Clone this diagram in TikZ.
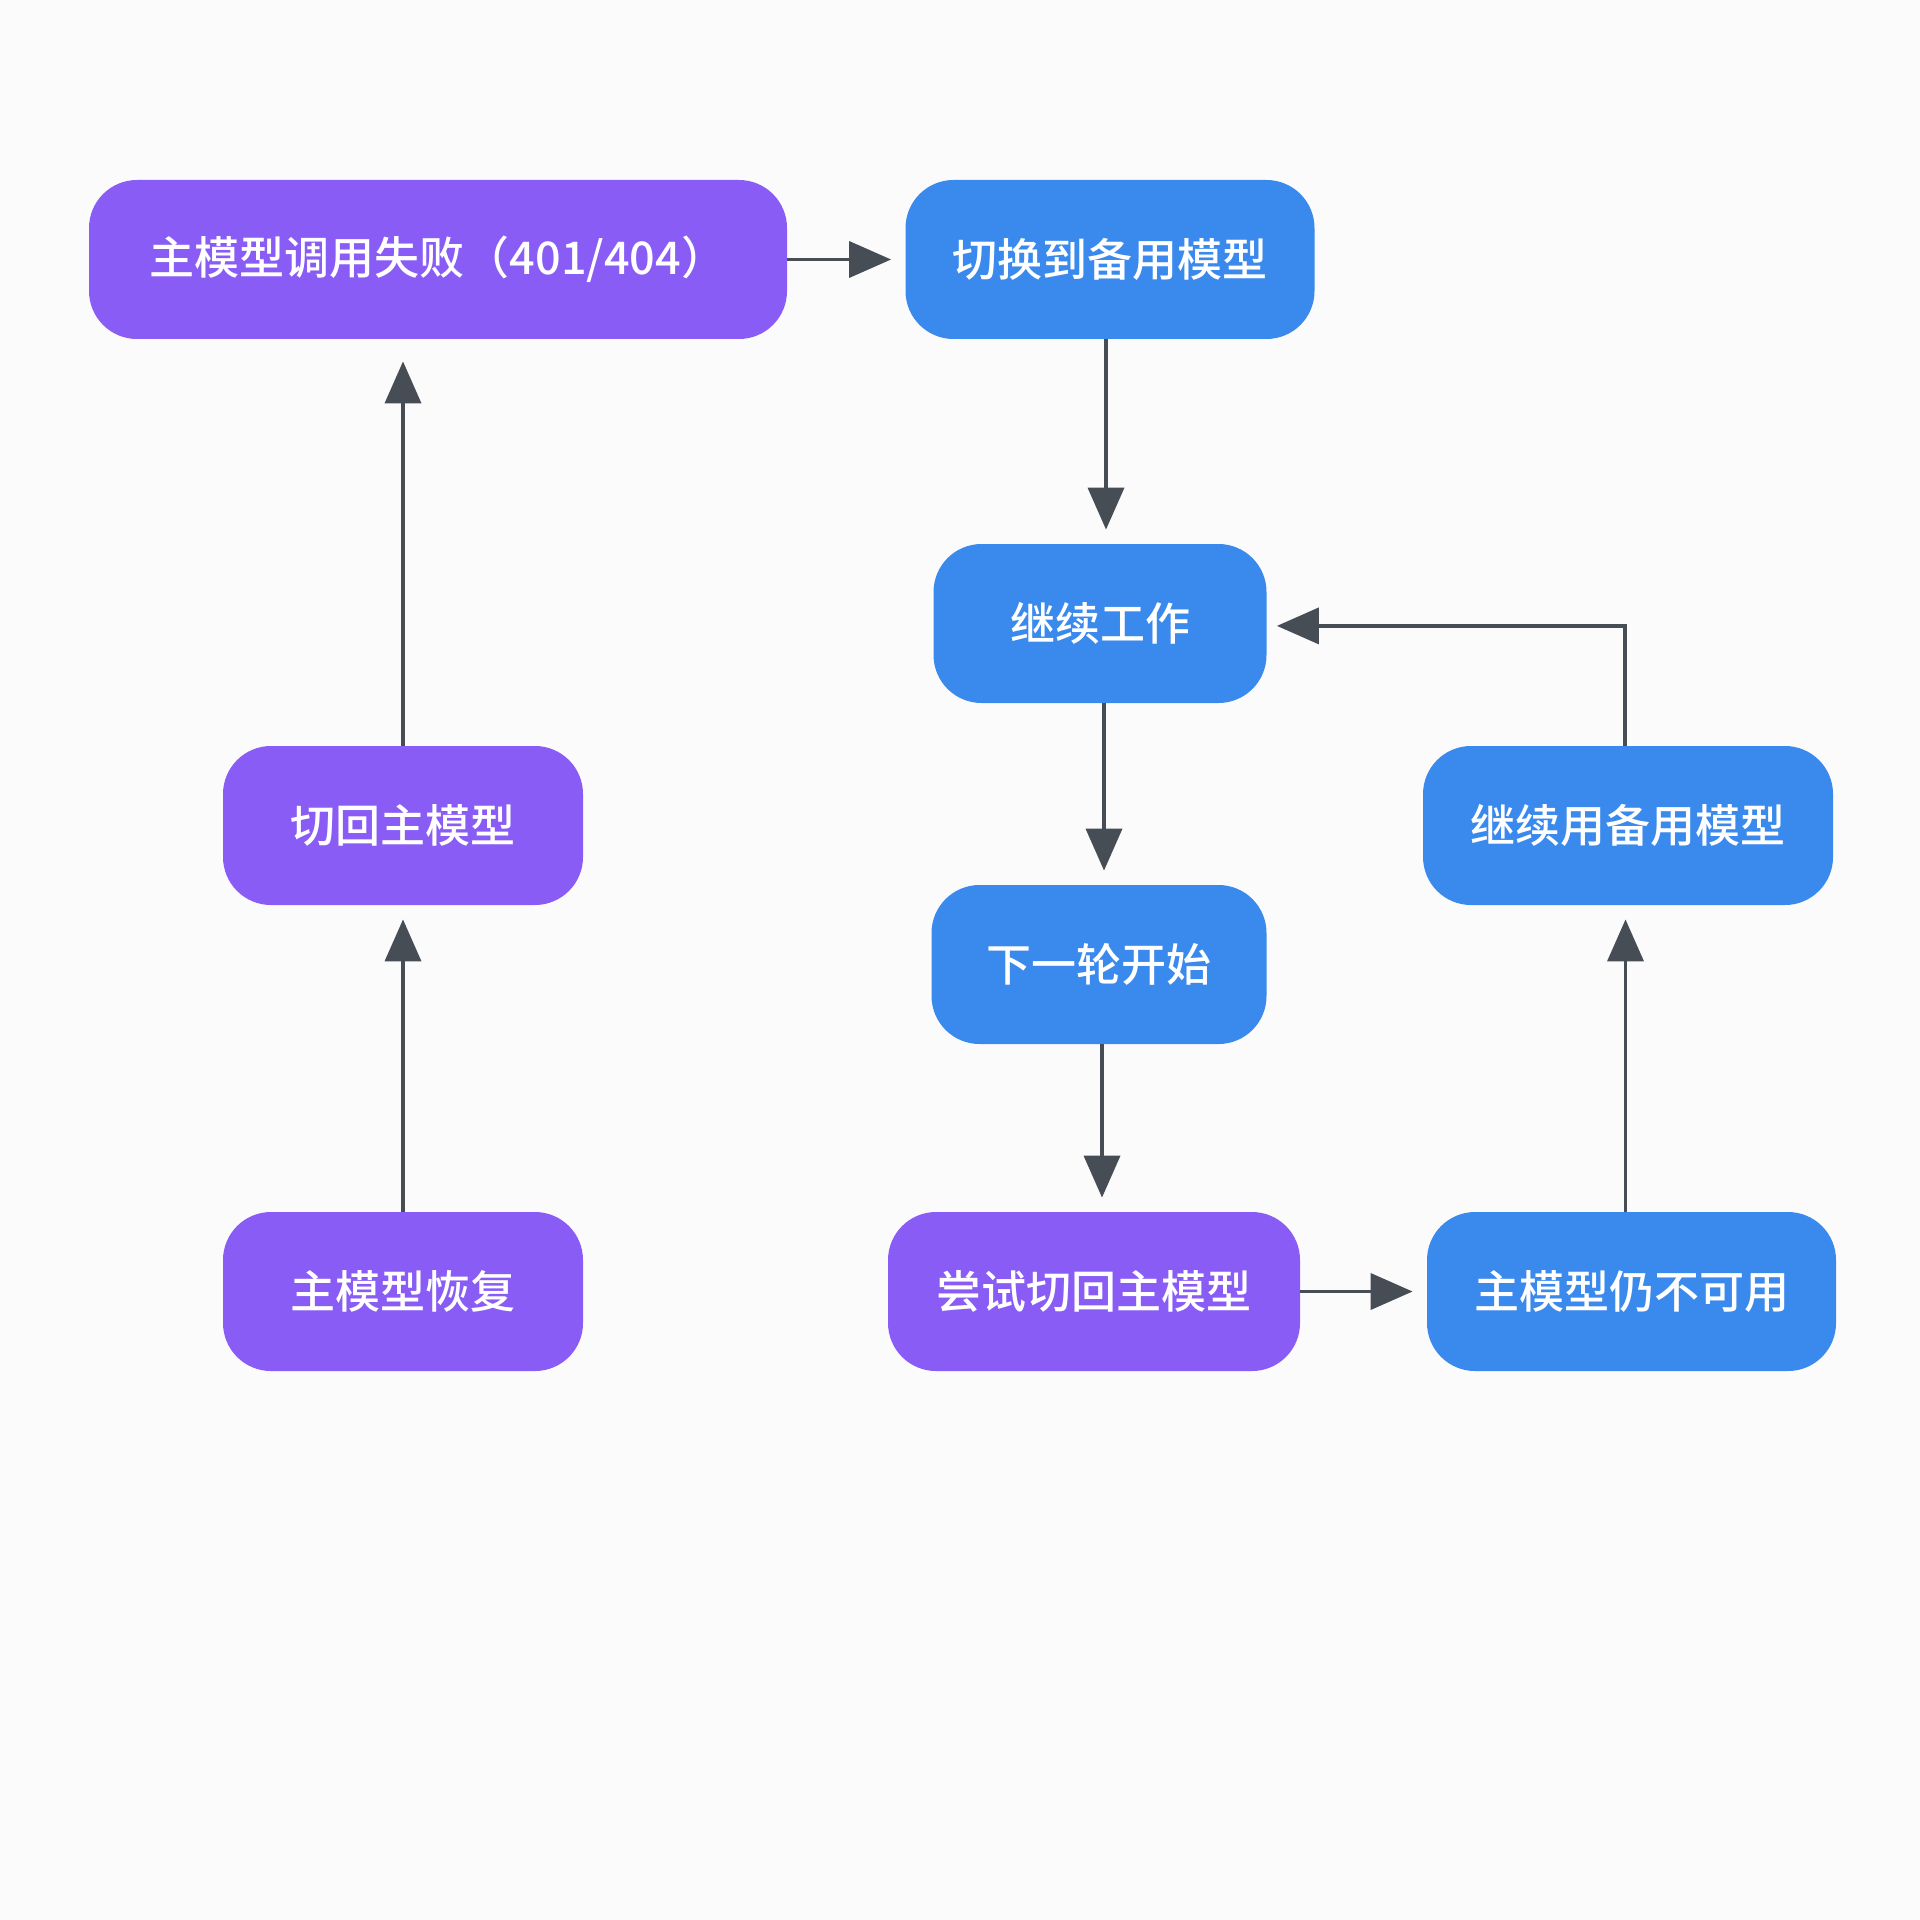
\documentclass[tikz,border=0pt]{standalone}
\usepackage{fontspec}
\newfontfamily\cjk{Noto Sans CJK SC}[BoldFont={Noto Sans CJK SC Medium}]
\usetikzlibrary{arrows.meta,calc}
\definecolor{bgc}{HTML}{FBFBFC}
\definecolor{purp}{HTML}{8A5CF6}
\definecolor{blu}{HTML}{3A8AEE}
\definecolor{arrc}{HTML}{474D55}
\tikzset{
  box/.style={rectangle, rounded corners=24pt, draw=none, text=white,
    font=\cjk\bfseries\fontsize{22.5pt}{27pt}\selectfont, minimum height=79.5pt, inner sep=0pt},
  pbox/.style={box, fill=purp},
  bbox/.style={box, fill=blu},
  arr/.style={draw=arrc, line width=1.9pt, -{Triangle[length=21pt,width=18pt]}, shorten >=7pt}
}
\begin{document}
\begin{tikzpicture}[x=0.5pt,y=-0.5pt]
\fill[bgc] (0,0) rectangle (1920,1920);
\useasboundingbox (0,0) rectangle (1920,1920);
\node[pbox, minimum width=349pt] (A) at (438,259.5) {主模型调用失败（401/404）};
\node[bbox, minimum width=204.5pt] (B) at (1110,259.5) {切换到备用模型};
\node[bbox, minimum width=166.5pt] (C) at (1100,623.5) {继续工作};
\node[bbox, minimum width=167.5pt] (D) at (1099,964.5) {下一轮开始};
\node[pbox, minimum width=206pt] (E) at (1094,1291.5) {尝试切回主模型};
\node[bbox, minimum width=204.5pt] (F) at (1631.5,1291.5) {主模型仍不可用};
\node[bbox, minimum width=205pt] (G) at (1628,825.5) {继续用备用模型};
\node[pbox, minimum width=180pt] (H) at (403,825.5) {切回主模型};
\node[pbox, minimum width=180pt] (I) at (403,1291.5) {主模型恢复};
\draw[arr] (A.east) -- (B.west);
\draw[arr] ([xshift=-2pt]B.south) -- ([xshift=-2pt]B.south |- C.north);
\draw[arr] ([xshift=2pt]C.south) -- ([xshift=2pt]C.south |- D.north);
\draw[arr] ([xshift=1.5pt]D.south) -- ([xshift=1.5pt]D.south |- E.north);
\draw[arr] (E.east) -- (E.east -| F.west);
\draw[arr] ([xshift=-3pt]F.north) -- ([xshift=-3pt]F.north |- G.south);
\draw[arr, shorten >=5pt] ([xshift=-1.5pt]G.north) |- ([yshift=-1.2pt]C.east);
\draw[arr] (I.north) -- (I.north |- H.south);
\draw[arr, shorten >=11pt] (H.north) -- (H.north |- A.south);
\end{tikzpicture}
\end{document}
